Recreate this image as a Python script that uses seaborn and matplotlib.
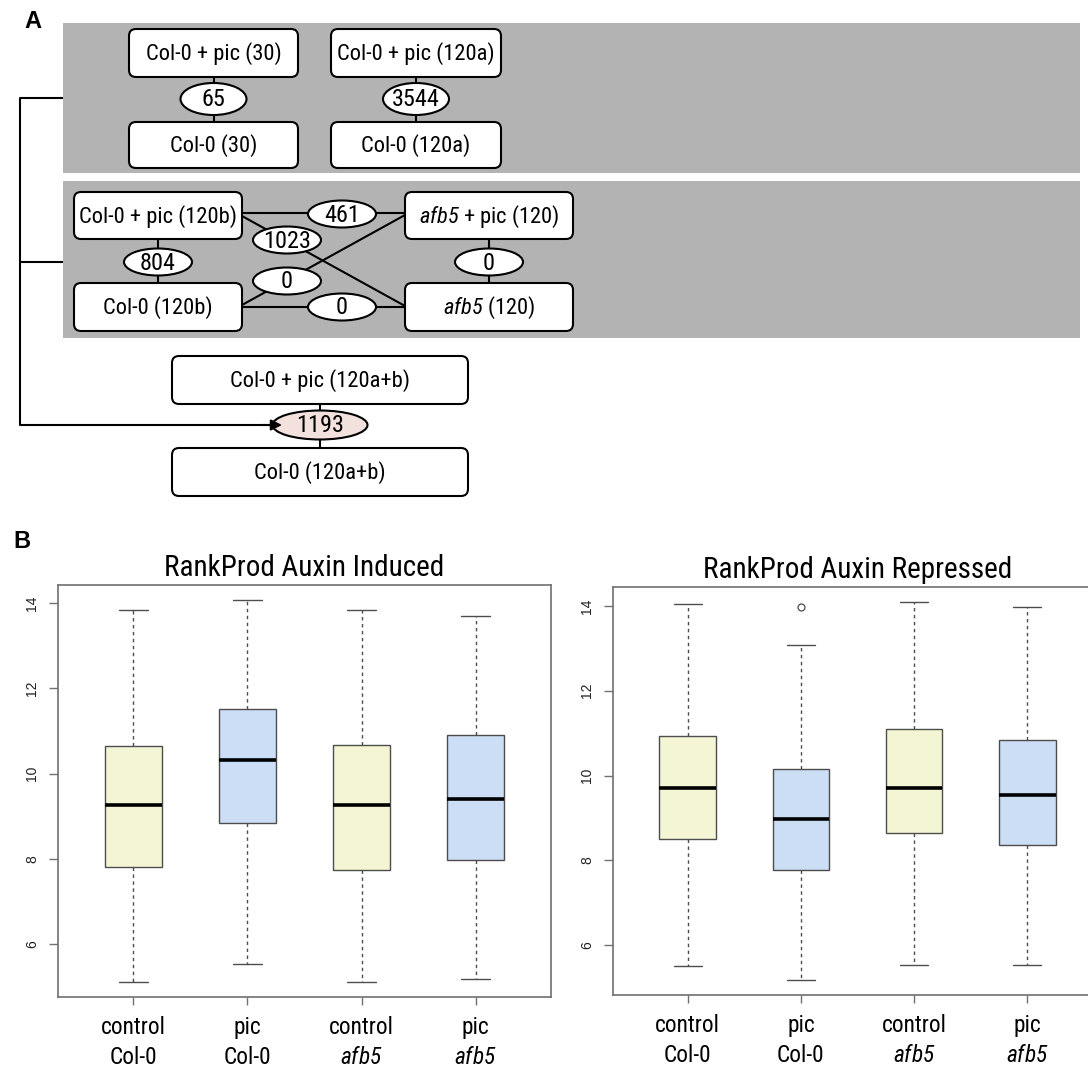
import matplotlib
matplotlib.use("Agg")
import matplotlib.pyplot as plt
from matplotlib import font_manager as fm
from matplotlib.patches import FancyBboxPatch, Ellipse, Rectangle
import numpy as np
import pandas as pd
import seaborn as sns

# ---------------------------------------------------------------- data
conditions = ["control\nCol-0", "pic\nCol-0", "control\n$\\mathsf{afb5}$", "pic\n$\\mathsf{afb5}$"]
condition_fill = ["#F4F5D4", "#CCDDF6", "#F4F5D4", "#CCDDF6"]

induced_low = [5.11, 5.52, 5.11, 5.17]
induced_q1 = [7.80, 8.84, 7.73, 7.97]
induced_med = [9.25, 10.32, 9.27, 9.40]
induced_q3 = [10.65, 11.51, 10.66, 10.90]
induced_high = [13.83, 14.07, 13.83, 13.69]
induced_out = [[], [], [], []]

repressed_low = [5.50, 5.18, 5.52, 5.52]
repressed_q1 = [8.51, 7.78, 8.64, 8.37]
repressed_med = [9.70, 8.97, 9.70, 9.54]
repressed_q3 = [10.93, 10.16, 11.10, 10.83]
repressed_high = [14.04, 13.07, 14.09, 13.98]
repressed_out = [[], [13.98], [], []]

panel_titles = ["RankProd Auxin Induced", "RankProd Auxin Repressed"]
y_ticks = [6, 8, 10, 12, 14]

# comparison graph (panel A)
top_treated = ["Col-0 + pic (30)", "Col-0 + pic (120a)"]
top_control = ["Col-0 (30)", "Col-0 (120a)"]
top_counts = [65, 3544]

mid_nodes = ["Col-0 + pic (120b)", "Col-0 (120b)",
             "$\\mathsf{afb5}$ + pic (120)", "$\\mathsf{afb5}$ (120)"]
# pic120b-vs-Col120b, afb5pic-vs-afb5, pic120b-vs-afb5pic, pic120b-vs-afb5,
# Col120b-vs-afb5pic, Col120b-vs-afb5
mid_counts = [804, 0, 461, 1023, 0, 0]

pooled_nodes = ["Col-0 + pic (120a+b)", "Col-0 (120a+b)"]
pooled_count = 1193

# ---------------------------------------------------------------- style
sns.set_theme(style="white")
names = {f.name for f in fm.fontManager.ttflist}
FONT, S = "Liberation Sans", 0.85
for cand in ["Liberation Sans Narrow", "Roboto Condensed", "Arial Narrow"]:
    if cand in names:
        FONT, S = cand, 1.0
        break
plt.rcParams["font.family"] = [FONT, "DejaVu Sans"]
plt.rcParams["mathtext.fontset"] = "custom"
plt.rcParams["mathtext.rm"] = FONT
plt.rcParams["mathtext.sf"] = FONT + ":italic"
plt.rcParams["mathtext.it"] = FONT + ":italic"
for key in ["text.color", "axes.labelcolor", "xtick.color", "ytick.color", "axes.titlecolor"]:
    plt.rcParams[key] = "black"

W, H = 1088, 1069
fig = plt.figure(figsize=(W / 100, H / 100), dpi=100)


def fig_axes(x0, y0, x1, y1):
    return fig.add_axes([x0 / W, 1 - y1 / H, (x1 - x0) / W, (y1 - y0) / H])


# ---------------------------------------------------------------- panel A
axA = fig_axes(0, 0, W, H)
axA.set_xlim(0, W)
axA.set_ylim(H, 0)
axA.axis("off")
axA.set_zorder(-1)

LW = 1.5
FS = 16.2 * S
FS_N = 17.5 * S
GRAY = "#B3B3B3"


def node(x0, y0, x1, y1, label):
    axA.add_patch(FancyBboxPatch((x0, y0), x1 - x0, y1 - y0,
                                 boxstyle="round,pad=0,rounding_size=7",
                                 fc="white", ec="black", lw=LW, zorder=3))
    axA.text((x0 + x1) / 2, (y0 + y1) / 2 + 1, label, ha="center", va="center",
             fontsize=FS, color="black", zorder=4)


def count(cx, cy, w, h, n, fc="white"):
    axA.add_patch(Ellipse((cx, cy), w, h, fc=fc, ec="black", lw=LW, zorder=3))
    axA.text(cx, cy + 1, str(n), ha="center", va="center", fontsize=FS_N,
             color="black", zorder=4)


def link(xs, ys):
    axA.plot(xs, ys, color="black", lw=LW, zorder=2, solid_capstyle="butt")


# first group: two independent time points
axA.add_patch(Rectangle((63, 23), 1080 - 63, 173 - 23, fc=GRAY, ec="none", zorder=1))
for (x0, x1), trt, ctl, n in zip([(129, 298), (331, 501)], top_treated, top_control, top_counts):
    cx = (x0 + x1) / 2
    link([cx, cx], [77, 122])
    node(x0, 29, x1, 77, trt)
    node(x0, 122, x1, 168, ctl)
    count(cx, 99, 66, 32, n)

# second group: Col-0 vs afb5 at 120 min
axA.add_patch(Rectangle((63, 181), 1080 - 63, 338 - 181, fc=GRAY, ec="none", zorder=1))
link([158, 158], [239, 283])
link([489, 489], [239, 283])
link([242, 405], [213, 213])
link([242, 405], [216, 306])
link([242, 405], [305, 215])
link([242, 405], [307, 307])
node(74, 192, 242, 239, mid_nodes[0])
node(74, 283, 242, 331, mid_nodes[1])
node(405, 192, 573, 239, mid_nodes[2])
node(405, 283, 573, 331, mid_nodes[3])
for (cx, cy), n in zip([(158, 262), (489, 262), (342, 214), (287, 240), (287, 281), (342, 307)],
                       mid_counts):
    count(cx, cy, 68, 27, n)

# pooled comparison
link([320, 320], [404, 448])
node(172, 356, 468, 404, pooled_nodes[0])
node(172, 448, 468, 496, pooled_nodes[1])
count(320, 425, 95, 29, pooled_count, fc="#F2E1DC")

# bracket joining both groups into the pooled comparison
link([63, 20, 20, 270], [98, 98, 425, 425])
link([20, 63], [262, 262])
axA.annotate("", xy=(282, 425), xytext=(262, 425),
             arrowprops=dict(arrowstyle="-|>", color="black", lw=LW,
                             mutation_scale=16, shrinkA=0, shrinkB=0),
             zorder=5)

fig.text(33 / W, 1 - 21 / H, "A", ha="center", va="center", fontsize=17,
         fontweight="bold", family="Liberation Sans", color="black")
fig.text(22 / W, 1 - 541 / H, "B", ha="center", va="center", fontsize=17,
         fontweight="bold", family="Liberation Sans", color="black")


# ---------------------------------------------------------------- panel B
def summary_table(low, q1, med, q3, high, out):
    rows = []
    for name, lo, a, m, b, hi, ex in zip(conditions, low, q1, med, q3, high, out):
        vals = [lo, a, a, m, m, b, b, hi] + (list(ex) if ex else [hi])
        rows += [(name, v) for v in vals]
    return pd.DataFrame(rows, columns=["condition", "value"])


tables = [
    summary_table(induced_low, induced_q1, induced_med, induced_q3, induced_high, induced_out),
    summary_table(repressed_low, repressed_q1, repressed_med, repressed_q3, repressed_high, repressed_out),
]
frames = [(58, 585, 551, 997), (613, 587, 1102, 995)]
EDGE = "#4D4D4D"
SPINE = "#707070"

for df, (x0, y0, x1, y1), title in zip(tables, frames, panel_titles):
    ax = fig_axes(x0, y0, x1, y1)
    sns.boxplot(data=df, x="condition", y="value", hue="condition",
                order=conditions, hue_order=conditions, palette=condition_fill,
                saturation=1, width=0.5, whis=1.5, dodge=False, legend=False,
                linecolor=EDGE, linewidth=1.0, ax=ax,
                medianprops=dict(color="black", linewidth=2.6),
                whiskerprops=dict(linestyle=(0, (2.5, 2.5)), color=EDGE, linewidth=1.0),
                capprops=dict(color=EDGE, linewidth=1.0),
                flierprops=dict(marker="o", markerfacecolor="none",
                                markeredgecolor=EDGE, markersize=5, markeredgewidth=0.9))
    lo, hi = df["value"].min(), df["value"].max()
    pad = 0.04 * (hi - lo)
    ax.set_ylim(lo - pad, hi + pad)
    ax.set_xlim(-0.66, 3.66)
    ax.set_yticks(y_ticks)
    ax.set_yticklabels([str(t) for t in y_ticks], family="Liberation Sans")
    ax.set_xlabel("")
    ax.set_ylabel("")
    for sp in ax.spines.values():
        sp.set_visible(True)
        sp.set_color(SPINE)
        sp.set_linewidth(1.2)
    ax.tick_params(axis="y", labelrotation=90, length=6.5, width=1, color=SPINE,
                   labelsize=10, labelcolor="#222222", pad=7, left=True)
    ax.tick_params(axis="x", length=6, width=1, color=SPINE,
                   labelsize=16.8 * S, labelcolor="black", pad=8, bottom=True)
    for lab in ax.get_yticklabels():
        lab.set_verticalalignment("center")
    for lab in ax.get_xticklabels():
        lab.set_linespacing(1.35)
    ax.set_title(title, fontsize=21 * S, pad=6.5, color="black")

fig.savefig("out.png", dpi=100)
